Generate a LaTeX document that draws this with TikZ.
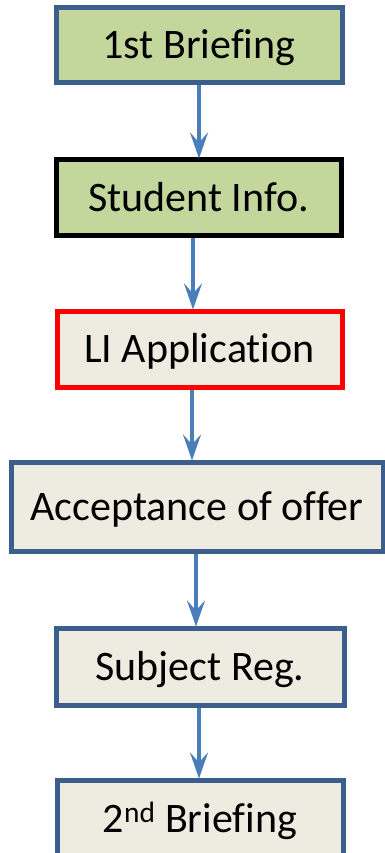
\documentclass[tikz,border=0pt]{standalone}
\usepackage{fontspec}
\setmainfont{Carlito}[Ligatures={NoCommon}]
\usetikzlibrary{arrows.meta}
\definecolor{boxblue}{HTML}{3B5E8C}
\definecolor{arrblue}{HTML}{4A7EBB}
\definecolor{greenfill}{HTML}{C3D69B}
\definecolor{beigefill}{HTML}{EEECE1}
\tikzset{
  stepbox/.style={rectangle, draw=boxblue, line width=5pt, fill=beigefill,
    minimum width=286pt, minimum height=76pt, inner sep=0pt,
    text height=27pt, text depth=0pt,
    font=\fontsize{42}{50}\selectfont},
  greenbox/.style={stepbox, fill=greenfill},
  arr/.style={draw=arrblue, line width=3.2pt,
    -{Stealth[length=26pt, width=18pt, inset=10pt]}, shorten >=-1pt}
}
\begin{document}
\begin{tikzpicture}[x=1pt, y=-1pt]
\useasboundingbox (0,0) rectangle (385,853);
\node[greenbox, minimum height=75pt] (b1) at (199,45.5) {1st Briefing};
\node[greenbox, draw=black, minimum width=285pt, minimum height=75pt] (b2) at (198.5,197.5) {Student Info.};
\node[stepbox, draw=red, minimum width=285pt] (b3) at (199.5,349) {LI Application};
\node[stepbox, minimum width=372pt, minimum height=89pt] (b4) at (197,506.5) {Acceptance of offer};
\node[stepbox, minimum width=288pt, minimum height=77pt] (b5) at (200,666.5) {Subject Reg.};
\node[stepbox, minimum width=286pt, minimum height=77pt] (b6) at (200,818.5) {2\textsuperscript{nd} Briefing};
\draw[arr] (b1.south) -- (b1.south |- b2.north);
\draw[arr] ([xshift=-5.5pt]b2.south) -- ([xshift=-5.5pt]b2.south |- b3.north);
\draw[arr] ([xshift=-7.5pt]b3.south) -- ([xshift=-7.5pt]b3.south |- b4.north);
\draw[arr] ([xshift=-1pt]b4.south) -- ([xshift=-1pt]b4.south |- b5.north);
\draw[arr] ([xshift=-1pt]b5.south) -- ([xshift=-1pt]b5.south |- b6.north);
\end{tikzpicture}
\end{document}
